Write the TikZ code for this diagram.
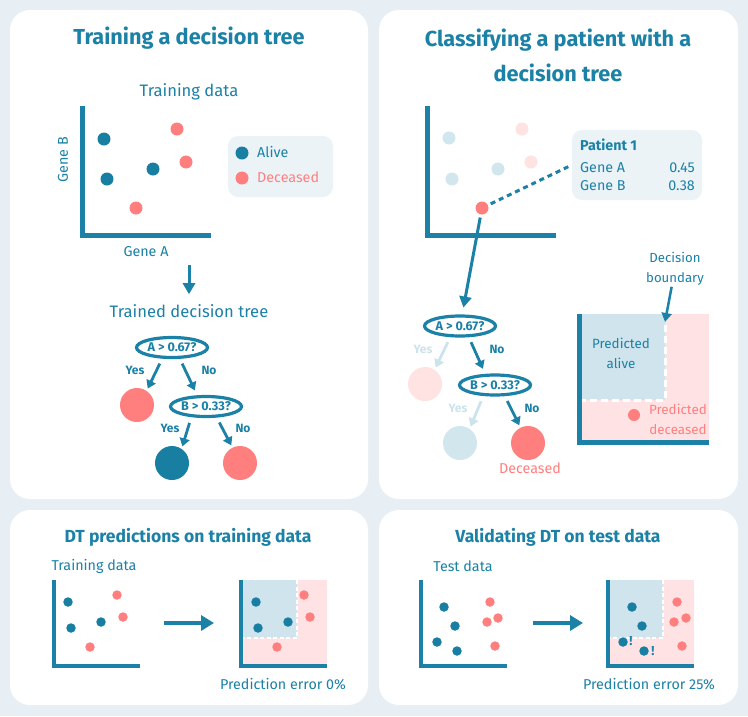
\documentclass[tikz,border=0pt]{standalone}
\usepackage{fontspec}
\setmainfont{Fira Sans}
\usetikzlibrary{arrows.meta,shapes.geometric}

\definecolor{dtteal}{HTML}{1B81A6}
\definecolor{dtdot}{HTML}{187EA2}
\definecolor{dtsalmon}{HTML}{FF7F7F}
\definecolor{dtpage}{HTML}{E7EFF5}
\definecolor{dtbox}{HTML}{EBF3F7}
\definecolor{dtalive}{HTML}{CFE4ED}
\definecolor{dtdead}{HTML}{FFE3E4}
\definecolor{dtfadeblue}{HTML}{D2E6EE}
\definecolor{dtfadepink}{HTML}{FFE2E2}
\definecolor{dtfadeline}{HTML}{CCE3EC}

\newcommand{\dtsize}[2]{\fontsize{#1}{#2}\selectfont}

\begin{document}
\begin{tikzpicture}[
        x=1pt, y=-1pt,
        panel/.style={
            fill=white,
            rounded corners=20pt
        },
        title/.style={
            text=dtteal,
            align=center,
            inner sep=1pt,
            font=\bfseries\dtsize{21.7}{35}
        },
        ptitle/.style={
            title,
            font=\bfseries\dtsize{17.5}{21}
        },
        heading/.style={
            text=dtteal,
            inner sep=1pt,
            font=\dtsize{16.6}{20}
        },
        caption/.style={
            text=dtteal,
            align=center,
            inner sep=1pt,
            font=\dtsize{14.3}{19}
        },
        note/.style={
            caption,
            font=\dtsize{13.4}{19.5}
        },
        answer/.style={
            text=dtteal,
            inner sep=1pt,
            font=\bfseries\dtsize{12}{13}
        },
        axis/.style={
            draw=dtteal,
            line width=5pt
        },
        saxis/.style={
            draw=dtteal,
            line width=4pt
        },
        alive/.style={
            circle,
            fill=dtdot,
            inner sep=0pt,
            minimum size=13pt
        },
        dead/.style={
            alive,
            fill=dtsalmon
        },
        salive/.style={
            alive,
            minimum size=9.5pt
        },
        sdead/.style={
            salive,
            fill=dtsalmon
        },
        split/.style={
            ellipse,
            draw=dtteal,
            line width=3.2pt,
            inner sep=0pt,
            minimum width=71pt,
            minimum height=20pt,
            text=dtteal,
            font=\bfseries\dtsize{12.6}{13}
        },
        leaf/.style={
            circle,
            inner sep=0pt,
            minimum size=34pt
        },
        branch/.style={
            draw=dtteal,
            line width=2.8pt,
            -{Triangle[width=10pt,length=8pt]},
            shorten <=5pt,
            shorten >=2.5pt
        },
        flow/.style={
            draw=dtteal,
            line width=3pt,
            -{Triangle[width=12pt,length=11pt]}
        },
        bigflow/.style={
            draw=dtteal,
            line width=3.5pt,
            -{Triangle[width=15pt,length=13pt]}
        },
        infobox/.style={
            fill=dtbox,
            rounded corners=10pt,
            inner sep=0pt
        },
        link/.style={
            draw=dtteal,
            line width=3pt,
            dash pattern=on 5pt off 4pt
        },
        cut/.style={
            draw=white,
            line width=3pt,
            dash pattern=on 7pt off 4pt
        },
        scut/.style={
            draw=white,
            line width=2.5pt,
            dash pattern=on 4pt off 2.5pt
        }
    ]
        % Page and panels
        \useasboundingbox (0,0) rectangle (748,716);
        \fill[dtpage] (0,0) rectangle (748,716);
        \fill[panel] (10,10) rectangle (368,499);
        \fill[panel] (379,10) rectangle (738,499);
        \fill[panel] (10,510) rectangle (368,705);
        \fill[panel] (379,510) rectangle (738,705);

        % ============== Training a decision tree ==============
        \node[title] (tTrain) at (189,38) {Training a decision tree};
        \node[heading] (tData) at (189,92) {Training data};

        % Scatter plot
        \draw[axis] (82,106) -- (82,235.5) -- (211,235.5);
        \node[caption, rotate=90] (geneB) at (63,160) {Gene B};
        \node[caption] (geneA) at (146,252) {Gene A};
        \foreach \x/\y [count=\i] in {104/139, 107/179, 153/169} {
            \node[alive] (ta\i) at (\x,\y) {};
        }
        \foreach \x/\y [count=\i] in {177/129, 186/162, 136/208} {
            \node[dead] (td\i) at (\x,\y) {};
        }

        % Legend
        \node[infobox, minimum width=105pt, minimum height=61pt] (legend) at (280.5,166.5) {};
        \node[alive] (kAlive) at (242,153) {};
        \node[dead] (kDead) at (242,178) {};
        \node[caption, anchor=west] (lAlive) at (256,152) {Alive};
        \node[caption, anchor=west, text=dtsalmon] (lDead) at (256,177) {Deceased};

        % Trained tree
        \coordinate (trainOut) at (189,265);
        \node[heading] (tTree) at (189,311) {Trained decision tree};
        \draw[flow, shorten >=9pt] (trainOut) -- (tTree);

        \node[split] (sA) at (172,347.5) {A > 0.67?};
        \node[split] (sB) at (206,406.5) {B > 0.33?};
        \node[leaf, fill=dtsalmon] (lfA) at (137,405) {};
        \node[leaf, fill=dtdot] (lfB) at (172,463) {};
        \node[leaf, fill=dtsalmon] (lfC) at (240,463) {};

        \draw[branch] ([xshift=-10pt]sA.south) -- (lfA.56);
        \draw[branch, shorten >=5pt] ([xshift=8pt]sA.south) -- ([xshift=-9pt]sB.north);
        \draw[branch] ([xshift=-15pt]sB.south) -- (lfB.56);
        \draw[branch] ([xshift=11pt]sB.south) -- (lfC.116);

        \node[answer] (yA) at (135,370) {Yes};
        \node[answer] (nA) at (209,370) {No};
        \node[answer] (yB) at (170,428) {Yes};
        \node[answer] (nB) at (243,428) {No};

        % ============== Classifying a patient ==============
        \node[title] (tClass) at (558,55.5) {Classifying a patient with a\\decision tree};

        % Faded scatter plot
        \draw[axis] (427,106) -- (427,235.5) -- (556,235.5);
        \foreach \x/\y [count=\i] in {449/138, 452/179, 498/169} {
            \node[alive, fill=dtfadeblue] (fa\i) at (\x,\y) {};
        }
        \foreach \x/\y [count=\i] in {522/129, 531/162} {
            \node[dead, fill=dtfadepink] (fd\i) at (\x,\y) {};
        }
        \node[dead] (pat) at (482,208) {};

        % Patient card
        \node[infobox, minimum width=130pt, minimum height=70pt] (patBox) at (637,165) {};
        \node[caption, anchor=west, font=\bfseries\dtsize{14.3}{19}] (patName) at (579,145) {Patient 1};
        \node[caption, anchor=west] (patGA) at (579,168) {Gene A};
        \node[caption, anchor=west] (patGB) at (579,186) {Gene B};
        \node[caption, anchor=east] (patVA) at (696,168) {0.45};
        \node[caption, anchor=east] (patVB) at (696,186) {0.38};
        \draw[link, shorten <=3pt] (pat) -- (patBox.west);

        % Tree with the patient's path
        \node[split] (cA) at (460,326) {A > 0.67?};
        \node[split] (cB) at (495,385) {B > 0.33?};
        \node[leaf, fill=dtfadepink] (cfA) at (425,384) {};
        \node[leaf, fill=dtfadeblue] (cfB) at (460,443) {};
        \node[leaf, fill=dtsalmon] (cfC) at (528,443) {};
        \draw[flow, shorten <=3pt, shorten >=7pt] (pat) -- (cA);

        \draw[branch, draw=dtfadeline] ([xshift=-10pt]cA.south) -- (cfA.56);
        \draw[branch, shorten >=5pt] ([xshift=9pt]cA.south) -- ([xshift=-10pt]cB.north);
        \draw[branch, draw=dtfadeline] ([xshift=-12pt]cB.south) -- (cfB.56);
        \draw[branch] ([xshift=10pt]cB.south) -- (cfC.116);

        \node[answer, text=dtfadeline] (cyA) at (423,349) {Yes};
        \node[answer] (cnA) at (497,349) {No};
        \node[answer, text=dtfadeline] (cyB) at (458,408) {Yes};
        \node[answer] (cnB) at (532,408) {No};
        \node[caption, text=dtsalmon] (cDead) at (530,468) {Deceased};

        % Decision boundary
        \fill[dtdead] (582,314) rectangle (709,440);
        \fill[dtalive] (582,314) rectangle (665,400);
        \draw[cut] (665,314) -- (665,400) -- (582,400);
        \draw[axis] (579.5,314) -- (579.5,442.5) -- (709,442.5);
        \node[note] (pAlive) at (621,353.5) {Predicted\\alive};
        \node[note, text=dtsalmon] (pDead) at (678,419.5) {Predicted\\deceased};
        \node[dead, minimum size=12pt] (patB) at (634,415) {};
        \node[note, font=\dtsize{13.2}{20}] (tBound) at (675,269) {Decision\\boundary};
        \coordinate (bndTop) at (665,322);
        \draw[draw=dtteal, line width=2.5pt, -{Triangle[width=10pt,length=9pt]}] (tBound) -- (bndTop);

        % ============== DT predictions on training data ==============
        \node[ptitle] (tPred) at (188,537) {DT predictions on training data};
        \node[caption] (tTrain2) at (94,566) {Training data};
        \draw[saxis] (54,580) -- (54,666) -- (140,666);
        \foreach \x/\y [count=\i] in {68/602, 71/628, 101/622} {
            \node[salive] (pa\i) at (\x,\y) {};
        }
        \foreach \x/\y [count=\i] in {117/595, 123/617, 90/647} {
            \node[sdead] (pd\i) at (\x,\y) {};
        }
        \coordinate (predL) at (164,623);
        \coordinate (predR) at (214,623);
        \draw[bigflow] (predL) -- (predR);

        % Predicted regions
        \fill[dtdead] (242,580) rectangle (327,664);
        \fill[dtalive] (242,580) rectangle (297,638);
        \draw[scut] (297,580) -- (297,638) -- (242,638);
        \draw[saxis] (241,580) -- (241,666) -- (327,666);
        \foreach \x/\y [count=\i] in {256/602, 258/628, 288/622} {
            \node[salive] (qa\i) at (\x,\y) {};
        }
        \foreach \x/\y [count=\i] in {304/595, 310/617, 277/647} {
            \node[sdead] (qd\i) at (\x,\y) {};
        }
        \node[caption] (err0) at (283,684) {Prediction error 0\%};

        % ============== Validating DT on test data ==============
        \node[ptitle] (tVal) at (558,537) {Validating DT on test data};
        \node[caption] (tTest) at (463,566) {Test data};
        \draw[saxis] (421,580) -- (421,666) -- (507,666);
        \foreach \x/\y [count=\i] in {444/607, 455/626, 437/642, 457/651} {
            \node[salive] (va\i) at (\x,\y) {};
        }
        \foreach \x/\y [count=\i] in {490/602, 498/618, 487/622, 495/646} {
            \node[sdead] (vd\i) at (\x,\y) {};
        }
        \coordinate (valL) at (533,623);
        \coordinate (valR) at (583,623);
        \draw[bigflow] (valL) -- (valR);

        % Predicted regions
        \fill[dtdead] (610,580) rectangle (694,664);
        \fill[dtalive] (610,580) rectangle (663,638);
        \draw[scut] (663,580) -- (663,638) -- (610,638);
        \draw[saxis] (608,580) -- (608,666) -- (694,666);
        \foreach \x/\y [count=\i] in {632/607, 642/626, 623/642, 644/651} {
            \node[salive] (wa\i) at (\x,\y) {};
        }
        \foreach \x/\y [count=\i] in {677/602, 686/618, 674/622, 682/646} {
            \node[sdead] (wd\i) at (\x,\y) {};
        }
        \node[answer, font=\bfseries\dtsize{13}{14}] (miss1) at (631,641) {!};
        \node[answer, font=\bfseries\dtsize{13}{14}] (miss2) at (653,651) {!};
        \node[caption] (err25) at (649,684) {Prediction error 25\%};
    \end{tikzpicture}
\end{document}
